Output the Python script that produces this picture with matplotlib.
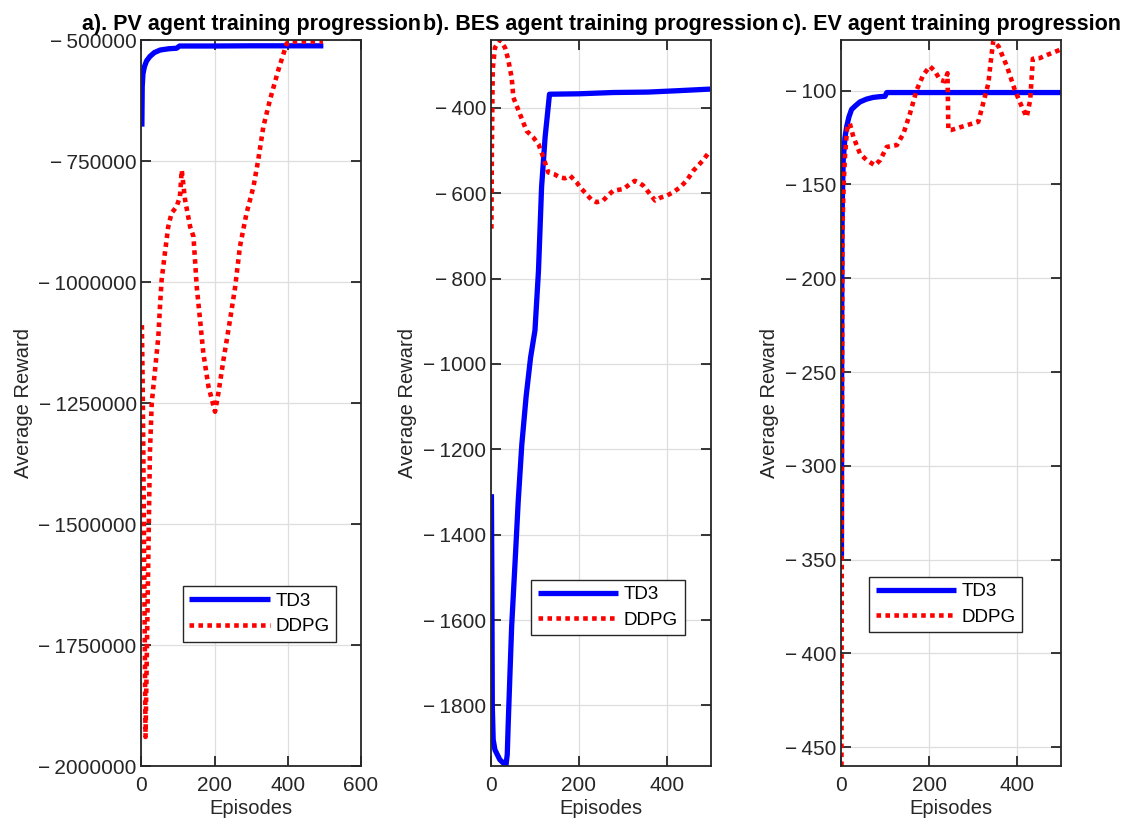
import matplotlib
matplotlib.use("Agg")
import matplotlib.pyplot as plt
from matplotlib.ticker import FuncFormatter

plt.rcParams['font.family'] = ['Liberation Sans', 'DejaVu Sans']

# ---- a) PV agent ----
pv_td3_ep = [1, 2, 4, 8, 14, 23, 35, 51, 75, 96, 104, 200, 300, 400, 497]
pv_td3_val = [-679000, -596000, -570000, -555000, -543000, -534000, -526000, -520700,
              -518000, -517000, -512400, -512400, -512000, -512000, -512000]
pv_ddpg_ep = [1, 3, 5, 8, 11, 14, 18, 23, 28, 37, 46, 51, 55, 64, 73, 82, 96, 105, 110,
              119, 133, 142, 151, 160, 169, 183, 201, 210, 224, 242, 256, 269, 287, 306,
              319, 333, 351, 374, 397, 410, 450, 496]
pv_ddpg_val = [-1089000, -1200000, -1353000, -1650000, -1940000, -1800000, -1600000,
               -1353000, -1250000, -1182000, -1113000, -1044000, -996000, -940000, -886000,
               -858000, -844000, -824000, -769000, -830000, -886000, -906000, -1010000,
               -1078000, -1147000, -1216000, -1268000, -1230000, -1161000, -1078000,
               -1010000, -927000, -858000, -803000, -748000, -679000, -624000, -562000,
               -507000, -503000, -503000, -503000]

# ---- b) BES agent ----
bes_td3_ep = [1, 2, 3, 5, 9, 20, 34, 37, 39, 43, 47, 55, 62, 70, 80, 90, 100, 108, 115,
              123, 133, 200, 278, 357, 420, 498]
bes_td3_val = [-1305, -1500, -1800, -1880, -1904, -1927, -1941, -1915, -1849, -1730, -1615,
               -1460, -1320, -1190, -1075, -985, -921, -781, -586, -469, -368, -367, -364,
               -363, -360, -356]
bes_ddpg_ep = [1, 2, 4, 9, 20, 32, 39, 47, 51, 66, 81, 96, 108, 119, 130, 143, 157, 168,
               180, 195, 206, 217, 228, 240, 255, 266, 278, 290, 301, 314, 327, 336, 346,
               360, 373, 386, 399, 415, 430, 445, 460, 480, 498]
bes_ddpg_val = [-683, -500, -309, -259, -241, -259, -286, -329, -376, -415, -454, -469,
                -485, -516, -551, -555, -563, -565, -559, -575, -590, -602, -615, -621,
                -617, -605, -594, -592, -590, -580, -571, -575, -582, -600, -617, -610,
                -606, -597, -586, -570, -547, -525, -501]

# ---- c) EV agent ----
ev_td3_ep = [1, 1.5, 2, 3, 5, 9, 13, 18, 24, 33, 43, 58, 73, 88, 100, 104, 200, 300, 400, 500]
ev_td3_val = [-348, -250, -180, -158, -137, -125, -119, -114, -110, -108, -106, -104.5,
              -103.6, -103.2, -103, -101, -101, -101, -101, -101]
ev_ddpg_ep = [1, 2, 3, 6, 9, 14, 20, 28, 43, 58, 77, 89, 104, 127, 142, 157, 172, 187, 202,
              214, 225, 236, 242, 244, 250, 286, 312, 323, 335, 340, 346, 358, 377, 395,
              411, 422, 430, 436, 452, 468, 498]
ev_ddpg_val = [-460, -300, -175, -150, -135, -120, -117.5, -124.6, -133.5, -137, -139.8,
               -137, -130, -129, -122.8, -112, -99.6, -91.6, -87, -89.8, -94.3, -95, -90.7,
               -121, -121, -118.4, -116.6, -106.8, -96, -85, -73.5, -76.4, -87, -99.6,
               -108.6, -114, -105, -83, -82.6, -81, -78.2]

titles = ['a). PV agent training progression', 'b). BES agent training progression',
          'c). EV agent training progression']
dark = '#262626'


def neg_fmt(v, pos):
    if v < 0:
        return '\u2212\u2009%d' % abs(int(round(v)))
    return '%d' % int(round(v))


fig = plt.figure(figsize=(11.23, 8.25), dpi=100)
positions = [[0.126, 0.0715, 0.1955, 0.880],
             [0.4372, 0.0715, 0.1959, 0.880],
             [0.7489, 0.0715, 0.1959, 0.880]]
series = [(pv_td3_ep, pv_td3_val, pv_ddpg_ep, pv_ddpg_val),
          (bes_td3_ep, bes_td3_val, bes_ddpg_ep, bes_ddpg_val),
          (ev_td3_ep, ev_td3_val, ev_ddpg_ep, ev_ddpg_val)]
xlims = [(0, 600), (0, 500), (0, 500)]
ylims = [(-2000000, -500000), (-1942, -241), (-460, -73)]
yticks = [list(range(-2000000, -499999, 250000)), list(range(-1800, -399, 200)),
          list(range(-450, -99, 50))]
xticks = [[0, 200, 400, 600], [0, 200, 400], [0, 200, 400]]
legend_anchor = [(0.188, 0.171), (0.182, 0.180), (0.127, 0.184)]

for i in range(3):
    ax = fig.add_axes(positions[i])
    te, tv, de, dv = series[i]
    ax.plot(te, tv, color='#0000ff', lw=3.8, label='TD3', solid_capstyle='butt')
    ax.plot(de, dv, color='#ff0000', lw=3.3, linestyle=(0, (1, 0.95)),
            dash_capstyle='butt', label='DDPG')
    ax.set_xlim(*xlims[i])
    ax.set_ylim(*ylims[i])
    ax.set_xticks(xticks[i])
    ax.set_yticks(yticks[i])
    ax.yaxis.set_major_formatter(FuncFormatter(neg_fmt))
    ax.grid(True, color='#dedede', lw=0.9)
    ax.set_axisbelow(True)
    for s in ax.spines.values():
        s.set_color(dark)
        s.set_linewidth(1.3)
    ax.tick_params(direction='in', top=True, right=True, length=7, width=1.3,
                   colors=dark, labelsize=15)
    ax.tick_params(axis='x', pad=7)
    ax.set_xlabel('Episodes', fontsize=14.5, color=dark, labelpad=3)
    ax.set_ylabel('Average Reward', fontsize=14.5, color=dark, labelpad=4)
    ax.set_title(titles[i], fontsize=15.5, fontweight='bold', pad=7)
    leg = ax.legend(loc='lower left', bbox_to_anchor=legend_anchor[i], borderaxespad=0,
                    fontsize=13.5, handlelength=4.3, handletextpad=0.3, labelspacing=0.45,
                    borderpad=0.35, fancybox=False, framealpha=1, edgecolor=dark)
    leg.get_frame().set_linewidth(1.0)

fig.savefig('out.png', dpi=100)
